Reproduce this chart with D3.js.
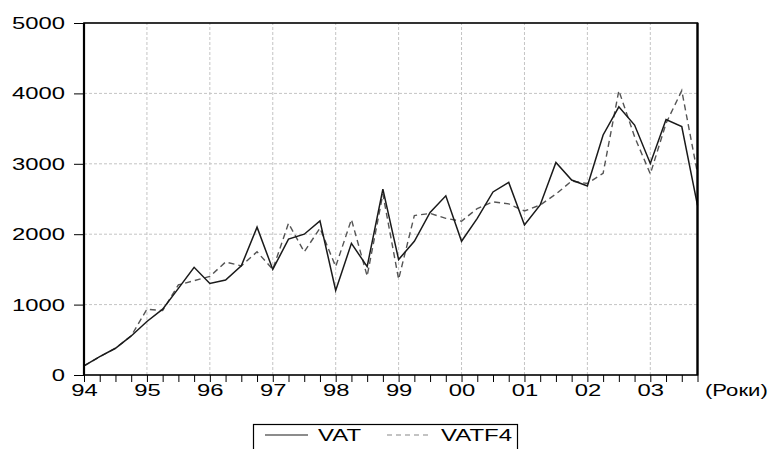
<!DOCTYPE html>
<html>
<head>
<meta charset="utf-8">
<script src="https://cdn.jsdelivr.net/npm/d3@7"></script>
<style>
  body { margin: 0; background: #fff; }
  text { font-family: "Liberation Sans", Arial, sans-serif; fill: #000; }
</style>
</head>
<body>
<script>
// quarterly data, 1994Q1 .. 2003Q4
var yearLabels = ["94", "95", "96", "97", "98", "99", "00", "01", "02", "03"]
var yTicks = [0, 1000, 2000, 3000, 4000, 5000]
var vat = [130, 260, 380, 555, 760, 935, 1230, 1530, 1300, 1350,
           1550, 2100, 1500, 1930, 2000, 2190, 1200, 1870, 1540, 2640,
           1640, 1900, 2310, 2545, 1900, 2225, 2600, 2735, 2130, 2415,
           3020, 2770, 2685, 3410, 3810, 3550, 3005, 3630, 3530, 2410]
var vatf4 = [130, 260, 380, 555, 935, 915, 1280, 1340, 1400, 1605,
             1550, 1750, 1500, 2155, 1750, 2085, 1540, 2210, 1405, 2570,
             1360, 2265, 2295, 2225, 2185, 2365, 2460, 2430, 2330, 2415,
             2570, 2755, 2720, 2865, 4040, 3385, 2855, 3575, 4040, 2865]
var seriesNames = ["VAT", "VATF4"]

var width = 772, height = 449
var margin = {l: 84, t: 23, r: 74.5, b: 74}
var sx = 1.4   // the original text is stretched wide

var svg = d3.select("body").append("svg")
    .attr("width", width)
    .attr("height", height)

var x = d3.scaleLinear().domain([0, vat.length - 1]).range([margin.l, width - margin.r])
var y = d3.scaleLinear().domain([0, 5000]).range([height - margin.b, margin.t])

// grid
var grid = svg.append("g")
grid.selectAll(".hg")
    .data(yTicks.slice(1, -1))
    .enter()
    .append("line")
    .attr("x1", x.range()[0])
    .attr("x2", x.range()[1])
    .attr("y1", function (d) { return y(d) })
    .attr("y2", function (d) { return y(d) })
    .style("stroke", "#c4c4c4")
    .style("stroke-dasharray", "3,2")
grid.selectAll(".vg")
    .data(d3.range(1, yearLabels.length))
    .enter()
    .append("line")
    .attr("x1", function (d) { return x(d * 4) })
    .attr("x2", function (d) { return x(d * 4) })
    .attr("y1", y.range()[0])
    .attr("y2", y.range()[1])
    .style("stroke", "#c4c4c4")
    .style("stroke-dasharray", "3,2")

// lines
var line = function (data) {
    return d3.line()
        .x(function (d, i) { return x(i) })
        .y(function (d) { return y(d) })(data)
}
svg.append("path")
    .attr("d", line(vatf4))
    .attr("fill", "none")
    .style("stroke", "#555")
    .style("stroke-width", 1.4)
    .style("stroke-dasharray", "6,4")
svg.append("path")
    .attr("d", line(vat))
    .attr("fill", "none")
    .style("stroke", "#1a1a1a")
    .style("stroke-width", 1.5)

// y axis
var gy = svg.append("g")
    .attr("transform", "translate(" + margin.l + ",0)")
    .call(d3.axisLeft(y).tickValues(yTicks).tickSize(10).tickSizeOuter(0).tickFormat(d3.format("d")))
gy.select(".domain").remove()
gy.selectAll("line").style("stroke", "#000")
gy.selectAll("text")
    .style("font-size", "17px")
    .attr("x", -19 / sx)
    .attr("dy", "0.32em")
    .attr("transform", "scale(" + sx + ",1)")

// x axis
var gx = svg.append("g")
    .attr("transform", "translate(0," + (height - margin.b) + ")")
    .call(d3.axisBottom(x).tickValues(d3.range(vat.length)).tickSize(7).tickSizeOuter(0)
        .tickFormat(function (d) { return d % 4 === 0 ? yearLabels[d / 4] : "" }))
gx.select(".domain").remove()
gx.selectAll("line").style("stroke", "#000")
gx.selectAll("text")
    .style("font-size", "17px")
    .attr("y", 21)
    .attr("dy", 0)
    .attr("transform", "scale(" + sx + ",1)")
    .attr("x", 0)

svg.append("text")
    .attr("transform", "translate(705," + (height - margin.b + 21) + ") scale(1.3,1)")
    .style("font-size", "17px")
    .text("(Роки)")

// frame
svg.append("rect")
    .attr("x", x.range()[0])
    .attr("y", y.range()[1])
    .attr("width", x.range()[1] - x.range()[0])
    .attr("height", y.range()[0] - y.range()[1])
    .attr("fill", "none")
    .style("stroke", "#000")
    .style("stroke-width", 1.6)
svg.append("line")
    .attr("x1", x.range()[0]).attr("x2", x.range()[0])
    .attr("y1", y.range()[1]).attr("y2", y.range()[0])
    .style("stroke", "#000")
    .style("stroke-width", 2.2)
svg.append("line")
    .attr("x1", x.range()[1]).attr("x2", x.range()[1])
    .attr("y1", y.range()[1]).attr("y2", y.range()[0])
    .style("stroke", "#000")
    .style("stroke-width", 2.2)

// legend
var lg = svg.append("g")
lg.append("rect")
    .attr("x", 253.5)
    .attr("y", 424.5)
    .attr("width", 264)
    .attr("height", 40)
    .attr("fill", "#fff")
    .style("stroke", "#000")
    .style("stroke-width", 1.2)
var items = [
    {name: seriesNames[0], x1: 265, x2: 308, tx: 318, color: "#1a1a1a", dash: null},
    {name: seriesNames[1], x1: 387, x2: 428, tx: 441, color: "#888", dash: "5,4"}
]
items.forEach(function (it) {
    lg.append("line")
        .attr("x1", it.x1).attr("x2", it.x2)
        .attr("y1", 435).attr("y2", 435)
        .style("stroke", it.color)
        .style("stroke-width", 1.2)
        .style("stroke-dasharray", it.dash)
    lg.append("text")
        .attr("transform", "translate(" + it.tx + ",441) scale(1.5,1)")
        .style("font-size", "16px")
        .text(it.name)
})
</script>
</body>
</html>
